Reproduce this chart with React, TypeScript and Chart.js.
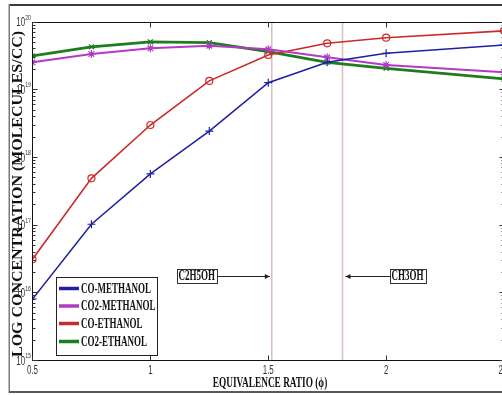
import { useEffect, useRef } from 'react';
import { Chart, registerables } from 'chart.js';

Chart.register(...registerables);

// Equivalence ratio sample points
const phi = [0.5, 0.75, 1, 1.25, 1.5, 1.75, 2, 2.5];

// Species concentrations (molecules/cc)
const coMethanol = [8.1e15, 1.03e17, 5.7e17, 2.45e18, 1.27e19, 2.54e19, 3.45e19, 4.57e19];
const co2Methanol = [2.54e19, 3.37e19, 4.09e19, 4.47e19, 3.95e19, 3.01e19, 2.32e19, 1.81e19];
const coEthanol = [3.13e16, 4.91e17, 3.01e18, 1.35e19, 3.26e19, 4.85e19, 5.86e19, 7.4e19];
const co2Ethanol = [3.15e19, 4.3e19, 5.1e19, 4.95e19, 3.64e19, 2.54e19, 2.07e19, 1.44e19];

const seriesNames = ['CO-METHANOL', 'CO2-METHANOL', 'CO-ETHANOL', 'CO2-ETHANOL'];

// Axis ticks
const xTickValues = [0.5, 1, 1.5, 2, 2.5];
const xTickLabels = ['0.5', '1', '1.5', '2', '2.5'];
const yDecades = [1e15, 1e16, 1e17, 1e18, 1e19, 1e20];
const yExponents = ['15', '16', '17', '18', '19', '20'];

// Fuel reference lines (equivalence ratio) and their labels
const fuelLines = [1.515, 1.815];
const fuelLabels = ['C2H5OH', 'CH3OH'];
const fuelLabelPhi = [1.197, 2.091];
const fuelLabelLevel = 1.77e16;

const W = 560;
const H = 395;
const SX = 0.62; // horizontal squeeze applied to figure text
const SERIF = '"Liberation Serif", "Times New Roman", serif';
const SANS = '"Liberation Sans", Arial, sans-serif';

const colors = ['#1f1fa3', '#b23ac4', '#cc2a2a', '#1e7d1e'];

function drawSqueezed(
  ctx: CanvasRenderingContext2D,
  text: string,
  x: number,
  y: number,
  font: string,
  align: 'left' | 'center' | 'right',
  sx: number,
  color: string
) {
  ctx.save();
  ctx.font = font;
  ctx.fillStyle = color;
  ctx.textBaseline = 'middle';
  ctx.textAlign = 'left';
  const w = ctx.measureText(text).width * sx;
  const x0 = align === 'left' ? x : align === 'center' ? x - w / 2 : x - w;
  ctx.translate(x0, y);
  ctx.scale(sx, 1);
  ctx.fillText(text, 0, 0);
  ctx.restore();
  return w;
}

const crisp = (v: number) => Math.floor(v) + 0.5;

const decor = {
  id: 'decor',
  beforeDraw(chart: any) {
    const { ctx, width } = chart;
    ctx.save();
    ctx.fillStyle = '#ffffff';
    ctx.fillRect(0, 0, width, H);
    // figure frame
    ctx.fillStyle = '#3a3a3a';
    ctx.fillRect(9, 4, width, 2);
    ctx.fillStyle = '#7a7a7a';
    ctx.fillRect(8.5, 4, 1.5, 389);
    ctx.fillStyle = '#5a5a5a';
    ctx.fillRect(9, 391, width, 2);
    ctx.restore();
  },
  beforeDatasetsDraw(chart: any) {
    const { ctx, chartArea: a } = chart;
    const x = chart.scales.x;
    ctx.save();
    ctx.strokeStyle = '#dcbcbc';
    ctx.lineWidth = 1.5;
    fuelLines.forEach((p) => {
      const px = x.getPixelForValue(p);
      ctx.beginPath();
      ctx.moveTo(px, a.top);
      ctx.lineTo(px, a.bottom);
      ctx.stroke();
    });
    ctx.restore();
  },
  afterDatasetsDraw(chart: any) {
    const { ctx, chartArea: a } = chart;
    const xs = chart.scales.x;
    const ys = chart.scales.y;
    const L = crisp(a.left);
    const R = crisp(a.right);
    const T = crisp(a.top);
    const B = crisp(a.bottom);

    ctx.save();
    // axes box
    ctx.strokeStyle = '#111';
    ctx.lineWidth = 1;
    ctx.strokeRect(L, T, R - L, B - T);

    // y ticks (inward, both sides)
    ctx.strokeStyle = '#333';
    const yTick = (v: number, len: number) => {
      const py = crisp(ys.getPixelForValue(v));
      ctx.beginPath();
      ctx.moveTo(L, py);
      ctx.lineTo(L + len, py);
      ctx.moveTo(R, py);
      ctx.lineTo(R - len, py);
      ctx.stroke();
    };
    yDecades.forEach((d, i) => {
      yTick(d, 5);
      if (i < yDecades.length - 1) {
        for (let m = 2; m <= 9; m++) yTick(m * d, 3);
      }
    });
    // x ticks (inward, top and bottom)
    xTickValues.forEach((v) => {
      const px = crisp(xs.getPixelForValue(v));
      ctx.beginPath();
      ctx.moveTo(px, B);
      ctx.lineTo(px, B - 5);
      ctx.moveTo(px, T);
      ctx.lineTo(px, T + 5);
      ctx.stroke();
    });

    // tick labels
    const tickColor = '#333';
    xTickValues.forEach((v, i) => {
      drawSqueezed(ctx, xTickLabels[i], xs.getPixelForValue(v), 371, `12px ${SANS}`, 'center', 0.66, tickColor);
    });
    yDecades.forEach((d, i) => {
      const py = ys.getPixelForValue(d);
      const supW = drawSqueezed(ctx, yExponents[i], 31, py - 4.5, `8px ${SANS}`, 'right', 0.66, tickColor);
      drawSqueezed(ctx, '10', 31 - supW, py + 1, `12px ${SANS}`, 'right', 0.66, tickColor);
    });

    // axis titles
    drawSqueezed(ctx, 'EQUIVALENCE RATIO (ϕ)', 270, 383, `bold 15px ${SERIF}`, 'center', SX, '#111');
    ctx.save();
    ctx.translate(17.5, 194);
    ctx.rotate(-Math.PI / 2);
    ctx.font = `bold 15.5px ${SERIF}`;
    ctx.fillStyle = '#111';
    ctx.textAlign = 'center';
    ctx.textBaseline = 'middle';
    const yTitle = 'LOG CONCENTRATION (MOLECULES/CC)';
    const natural = ctx.measureText(yTitle).width;
    ctx.scale(326 / natural, 1);
    ctx.fillText(yTitle, 0, 0);
    ctx.restore();

    // fuel annotations with arrows
    const arrowY = ys.getPixelForValue(fuelLabelLevel);
    fuelLabels.forEach((label, i) => {
      const cx = xs.getPixelForValue(fuelLabelPhi[i]);
      ctx.save();
      ctx.font = `bold 14.5px ${SERIF}`;
      const tw = ctx.measureText(label).width * SX;
      ctx.restore();
      const bx = Math.round(cx - tw / 2 - 2) + 0.5;
      const bw = Math.round(tw + 4);
      const by = Math.round(arrowY - 7) + 0.5;
      const bh = 14;
      ctx.fillStyle = '#fff';
      ctx.fillRect(bx, by, bw, bh);
      ctx.strokeStyle = '#333';
      ctx.lineWidth = 1;
      ctx.strokeRect(bx, by, bw, bh);
      drawSqueezed(ctx, label, cx, arrowY + 0.5, `bold 14.5px ${SERIF}`, 'center', SX, '#111');

      const tip = xs.getPixelForValue(fuelLines[i]) + (i === 0 ? -2 : 3);
      const start = i === 0 ? bx + bw : bx;
      const dir = tip > start ? 1 : -1;
      ctx.strokeStyle = '#222';
      ctx.beginPath();
      ctx.moveTo(start, crisp(arrowY));
      ctx.lineTo(tip, crisp(arrowY));
      ctx.stroke();
      ctx.fillStyle = '#222';
      ctx.beginPath();
      ctx.moveTo(tip, crisp(arrowY));
      ctx.lineTo(tip - dir * 5, crisp(arrowY) - 2.5);
      ctx.lineTo(tip - dir * 5, crisp(arrowY) + 2.5);
      ctx.closePath();
      ctx.fill();
    });

    // legend
    const lx = 56.5;
    const ly = 277.5;
    ctx.fillStyle = '#fff';
    ctx.fillRect(lx, ly, 101, 78);
    ctx.strokeStyle = '#222';
    ctx.lineWidth = 1;
    ctx.strokeRect(lx, ly, 101, 78);
    const rows = [288.5, 306, 323.5, 341.5];
    seriesNames.forEach((name, i) => {
      ctx.strokeStyle = colors[i];
      ctx.lineWidth = 3.5;
      ctx.beginPath();
      ctx.moveTo(59, rows[i]);
      ctx.lineTo(79, rows[i]);
      ctx.stroke();
      drawSqueezed(ctx, name, 81, rows[i] + 0.5, `bold 14.5px ${SERIF}`, 'left', SX, '#111');
    });
    ctx.restore();
  },
};

function series(values: number[]) {
  return phi.map((x, i) => ({ x, y: values[i] }));
}

export default function App() {
  const ref = useRef<HTMLCanvasElement>(null);

  useEffect(() => {
    const canvas = ref.current;
    if (!canvas) return;
    const chart = new Chart(canvas, {
      type: 'line',
      data: {
        datasets: [
          {
            label: seriesNames[0],
            data: series(coMethanol),
            borderColor: colors[0],
            backgroundColor: colors[0],
            borderWidth: 1.5,
            pointStyle: 'cross',
            pointRadius: 4,
            pointBorderWidth: 1.2,
          },
          {
            label: seriesNames[1],
            data: series(co2Methanol),
            borderColor: colors[1],
            backgroundColor: colors[1],
            borderWidth: 2,
            pointStyle: 'star',
            pointRadius: 4,
            pointBorderWidth: 1.2,
          },
          {
            label: seriesNames[2],
            data: series(coEthanol),
            borderColor: colors[2],
            backgroundColor: 'rgba(0,0,0,0)',
            borderWidth: 1.6,
            pointStyle: 'circle',
            pointRadius: 3.5,
            pointBorderWidth: 1.2,
          },
          {
            label: seriesNames[3],
            data: series(co2Ethanol),
            borderColor: colors[3],
            backgroundColor: colors[3],
            borderWidth: 2.8,
            pointStyle: 'crossRot',
            pointRadius: 3.5,
            pointBorderWidth: 1.2,
          },
        ],
      },
      options: {
        responsive: false,
        animation: false,
        devicePixelRatio: 1,
        layout: { padding: { left: 32.5, right: W - 504, top: 22, bottom: H - 360.5 } },
        plugins: { legend: { display: false }, tooltip: { enabled: false } },
        elements: { line: { tension: 0 } },
        scales: {
          x: { type: 'linear', min: 0.5, max: 2.5, display: false },
          y: { type: 'logarithmic', min: 1e15, max: 1e20, display: false },
        },
      },
      plugins: [decor],
    });
    return () => chart.destroy();
  }, []);

  return (
    <div
      style={{
        position: 'fixed',
        left: 0,
        top: 0,
        width: 502,
        height: 395,
        overflow: 'hidden',
        background: '#fff',
      }}
    >
      <canvas ref={ref} width={W} height={H} style={{ display: 'block', width: W, height: H }} />
    </div>
  );
}
